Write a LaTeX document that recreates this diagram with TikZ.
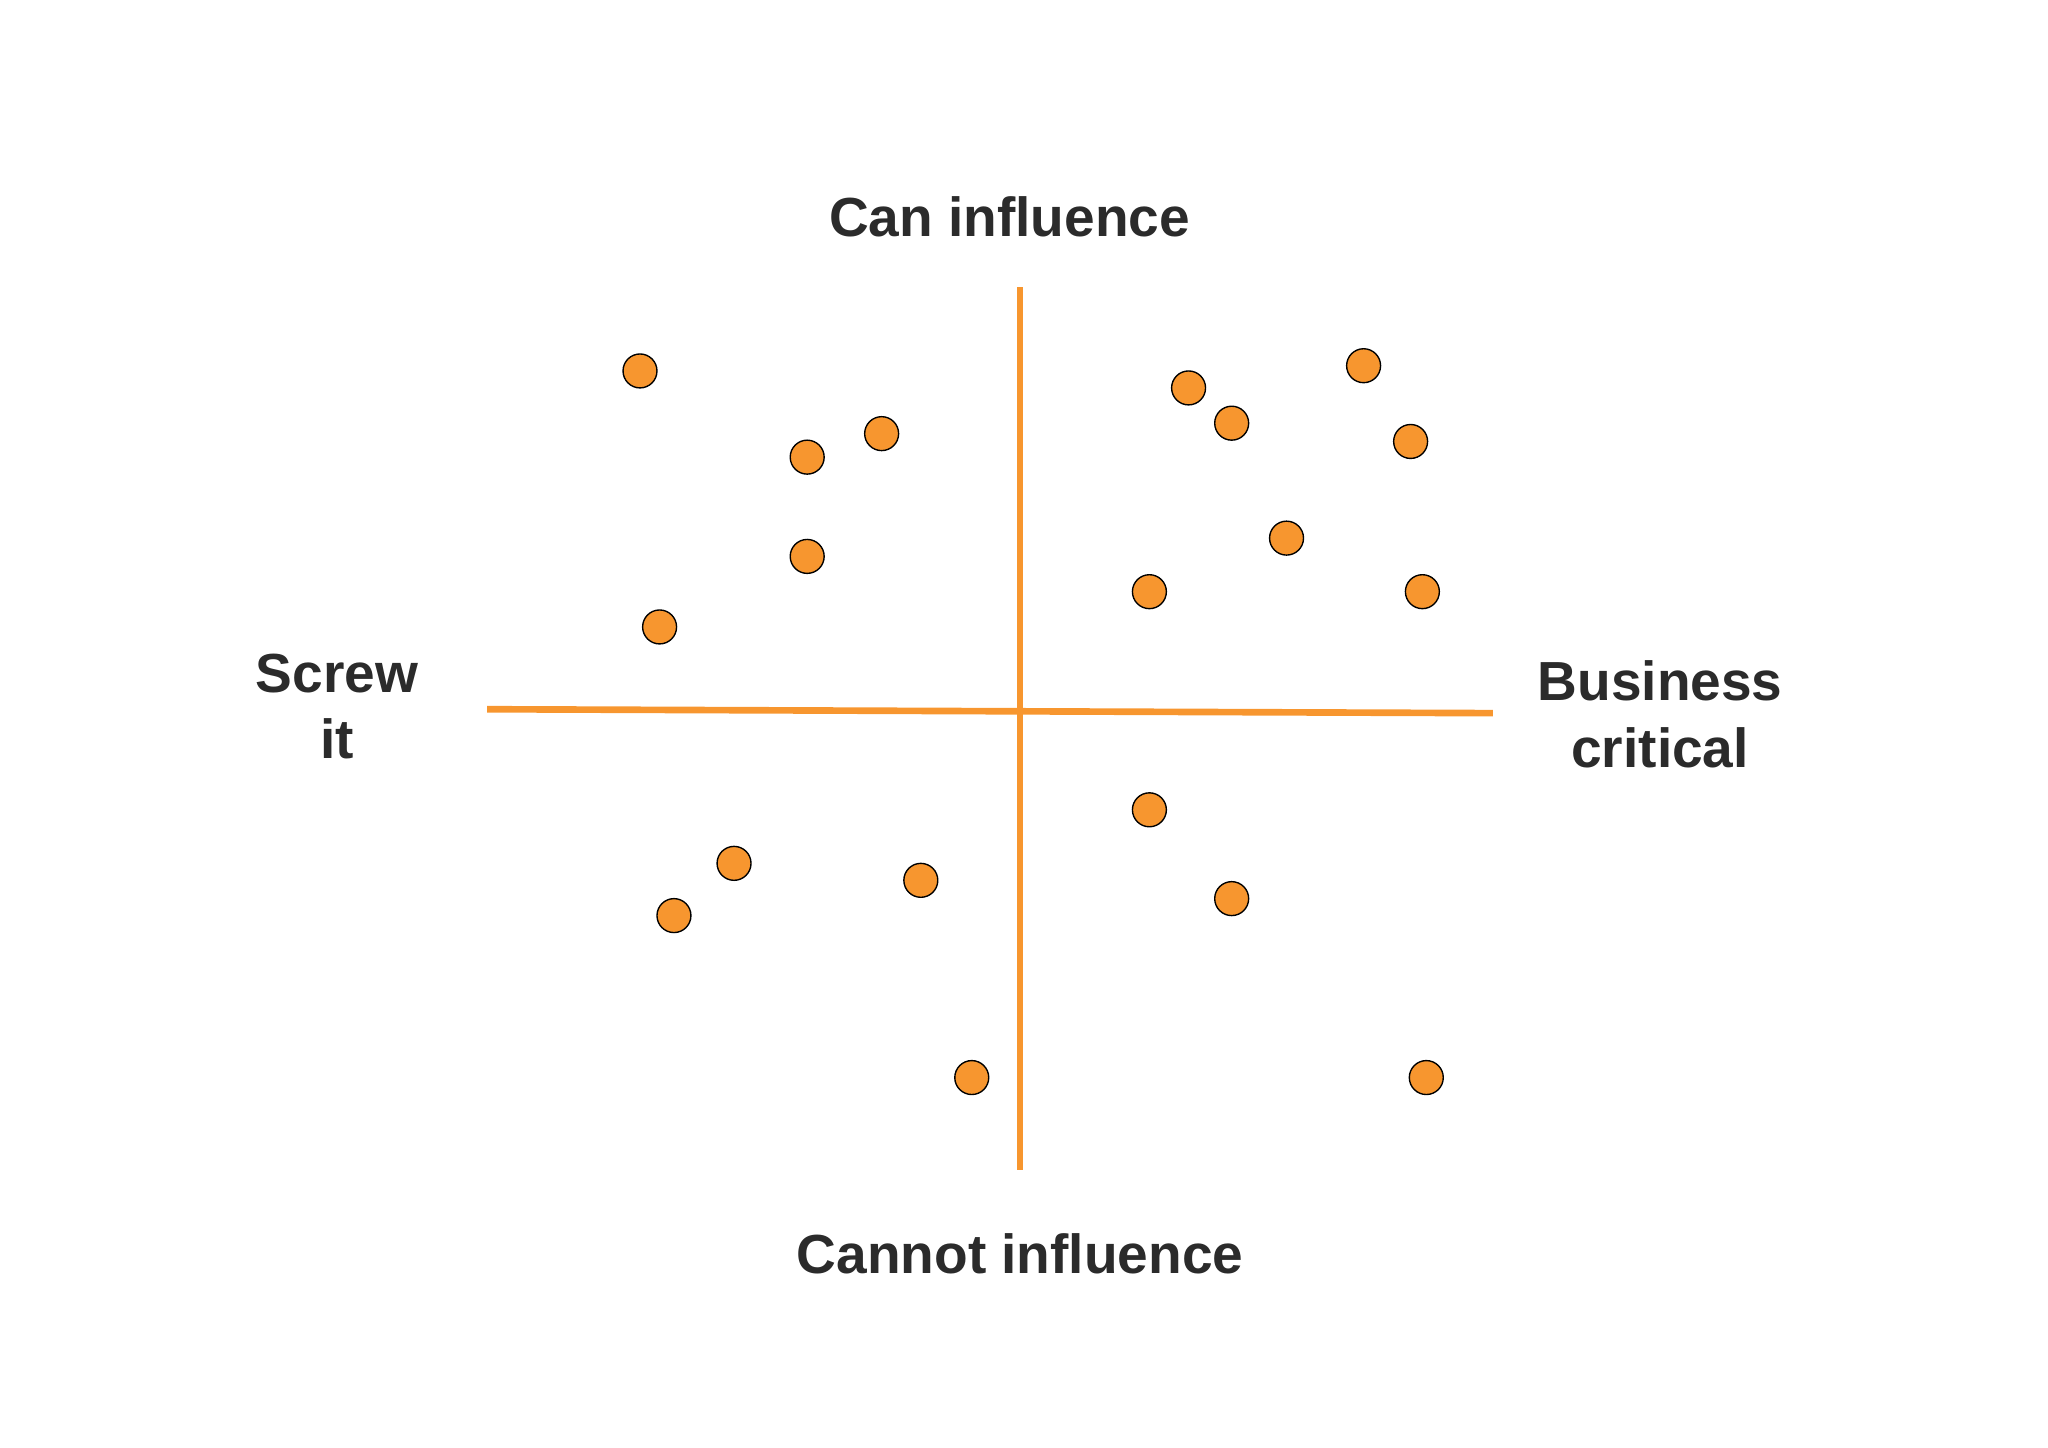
\documentclass[tikz,border=0pt]{standalone}
\usepackage{fontspec}
\setmainfont{Liberation Sans}
\begin{document}
\begin{tikzpicture}[x=0.02cm,y=-0.02cm,
  axis/.style={draw=orng,line width=2.9pt},
  dot/.style={circle,draw=black,line width=0.6pt,fill=orng,minimum size=0.52cm,inner sep=0pt},
  lbl/.style={font=\fontsize{24}{29}\selectfont\bfseries,text=txt,align=center}]
\definecolor{orng}{HTML}{F7962F}
\definecolor{txt}{HTML}{2B2B2B}
\useasboundingbox (0,0) rectangle (1568,1108);
\coordinate (hl) at (373,543); \coordinate (hr) at (1143,546);
\coordinate (vt) at (781,220); \coordinate (vb) at (781,896);
\draw[axis] (hl) -- (hr);
\draw[axis] (vt) -- (vb);
\foreach \p [count=\i] in {(490,284),(618,350),(675,332),(618,426),(505,480),(910,297),(943,324),(1044,280),(1080,338),(985,412),(880,453),(1089,453),(880,620),(943,688),(562,661),(516,701),(705,674),(744,825),(1092,825)}
  \node[dot] (d\i) at \p {};
\node[lbl] (top) at (773,166) {Can influence};
\node[lbl] (bot) at (781,960) {Cannot influence};
\node[lbl] (left) at (258,541) {Screw\\it};
\node[lbl] (right) at (1271,547) {Business\\critical};
\end{tikzpicture}
\end{document}
